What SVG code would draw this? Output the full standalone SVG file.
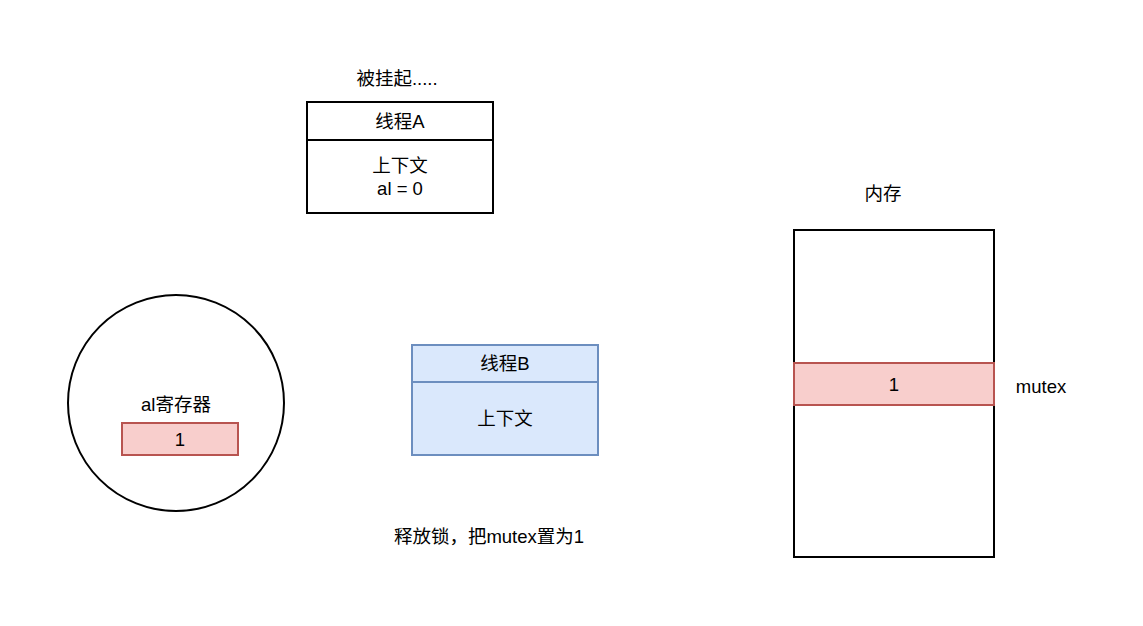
<svg xmlns="http://www.w3.org/2000/svg" width="1143" height="626" viewBox="0 0 1143 626">
<style>
text{font-family:"Liberation Sans","Noto Sans CJK SC",sans-serif;font-size:18.5px;fill:#000;text-anchor:middle;dominant-baseline:central}
.blk{fill:#fff;stroke:#000;stroke-width:2}
.red{fill:#f8cecc;stroke:#b85450;stroke-width:2}
.blue{fill:#dae8fc;stroke:#6c8ebf;stroke-width:2}
</style>
<rect width="1143" height="626" fill="#fff"/>
<g id="threadA">
<text x="397" y="78">被挂起.....</text>
<rect class="blk" x="307" y="102" width="186" height="111"/>
<line x1="307" y1="140" x2="493" y2="140" stroke="#000" stroke-width="2"/>
<text x="400" y="121">线程A</text>
<text x="400" y="165">上下文</text>
<text x="400" y="188">al = 0</text>
</g>
<g id="register">
<circle class="blk" cx="176" cy="403" r="108"/>
<text x="176" y="404">al寄存器</text>
<rect class="red" x="122" y="423" width="116" height="32"/>
<text x="180" y="439">1</text>
</g>
<g id="threadB">
<rect class="blue" x="412" y="345" width="186" height="110"/>
<line x1="412" y1="382" x2="598" y2="382" stroke="#6c8ebf" stroke-width="2"/>
<text x="505" y="363">线程B</text>
<text x="505" y="418">上下文</text>
</g>
<g id="note">
<text x="489" y="536">释放锁，把mutex置为1</text>
</g>
<g id="memory">
<text x="883" y="193">内存</text>
<rect class="blk" x="794" y="230" width="200" height="327"/>
<rect class="red" x="794" y="363" width="200" height="42"/>
<text x="894" y="384">1</text>
<text x="1041" y="386">mutex</text>
</g>
<g id="connectors"></g>
</svg>
